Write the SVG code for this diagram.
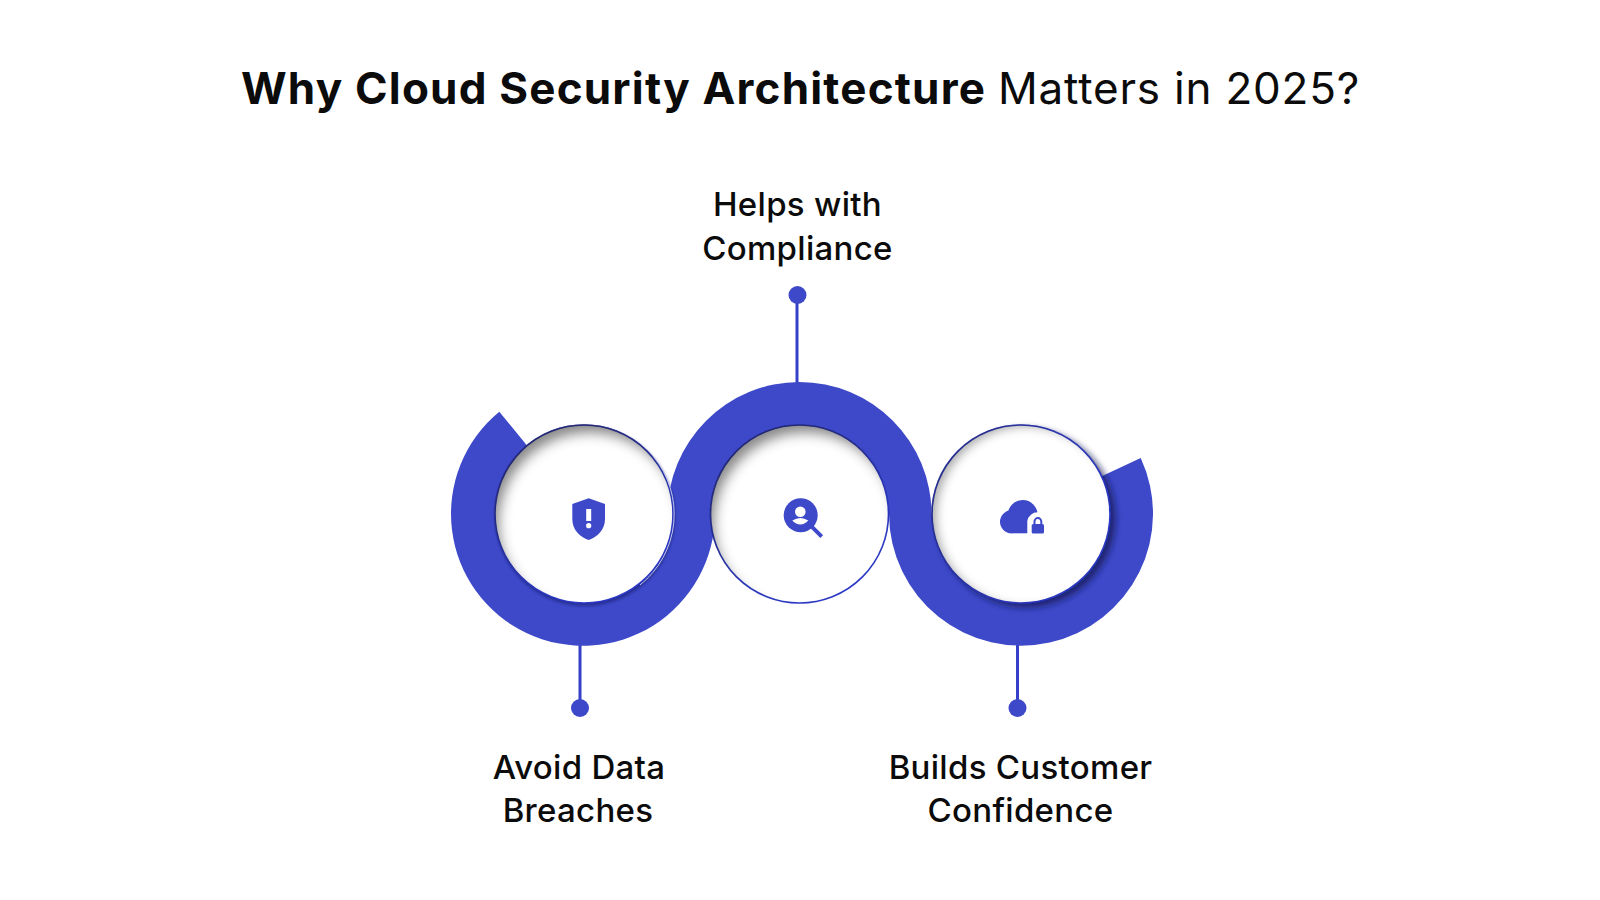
<svg xmlns="http://www.w3.org/2000/svg" width="1600" height="900" viewBox="0 0 1600 900">
<defs>
<style>
.t{font-family:"Inter","Noto Sans","Liberation Sans",sans-serif;fill:#0b0b0b}
.h{font-size:44px}
.l{font-size:33px;font-weight:500;text-anchor:middle;letter-spacing:.3px}
.b{fill:#3d49c9}
.line{stroke:#3540c8;stroke-width:3;fill:none}
.disc{fill:#fff;stroke:#2f3bc6;stroke-width:1.6}
</style>
<filter id="f1" x="-20%" y="-20%" width="140%" height="140%">
<feOffset in="SourceAlpha" dx="6" dy="10" result="o"/><feGaussianBlur in="o" stdDeviation="6" result="ob"/>
<feComposite in="SourceAlpha" in2="ob" operator="out" result="ring"/><feFlood flood-color="#222" flood-opacity=".75"/><feComposite in2="ring" operator="in" result="inner"/>
<feOffset in="SourceAlpha" dx="1" dy="2" result="d"/><feGaussianBlur in="d" stdDeviation="1.5" result="db"/><feFlood flood-color="#151a60" flood-opacity=".6"/><feComposite in2="db" operator="in" result="drop"/>
<feMerge><feMergeNode in="drop"/><feMergeNode in="SourceGraphic"/><feMergeNode in="inner"/></feMerge>
</filter>
<filter id="f2" x="-20%" y="-20%" width="140%" height="140%">
<feOffset in="SourceAlpha" dx="6" dy="10" result="o"/><feGaussianBlur in="o" stdDeviation="6" result="ob"/>
<feComposite in="SourceAlpha" in2="ob" operator="out" result="ring"/><feFlood flood-color="#222" flood-opacity=".75"/><feComposite in2="ring" operator="in" result="inner"/>
<feMerge><feMergeNode in="SourceGraphic"/><feMergeNode in="inner"/></feMerge>
</filter>
<filter id="f3" x="-20%" y="-20%" width="140%" height="140%">
<feOffset in="SourceAlpha" dx="6" dy="3" result="o"/><feGaussianBlur in="o" stdDeviation="5" result="ob"/>
<feComposite in="SourceAlpha" in2="ob" operator="out" result="ring"/><feFlood flood-color="#222" flood-opacity=".6"/><feComposite in2="ring" operator="in" result="inner"/>
<feOffset in="SourceAlpha" dx="5" dy="4" result="d"/><feGaussianBlur in="d" stdDeviation="3" result="db"/><feFlood flood-color="#14184f" flood-opacity=".7"/><feComposite in2="db" operator="in" result="drop"/>
<feMerge><feMergeNode in="drop"/><feMergeNode in="SourceGraphic"/><feMergeNode in="inner"/></feMerge>
</filter>
</defs>
<rect width="1600" height="900" fill="#fff"/>
<text class="t h" y="104"><tspan x="241" font-weight="700" letter-spacing="1.2">Why Cloud Security Architecture</tspan><tspan x="998" font-weight="400" letter-spacing=".8">Matters in 2025?</tspan></text>
<g id="connectors">
<line class="line" x1="797" y1="295" x2="797" y2="390"/>
<line class="line" x1="580" y1="640" x2="580" y2="708"/>
<line class="line" x1="1017.5" y1="640" x2="1017.5" y2="708"/>
<circle class="b" cx="797.5" cy="295" r="9"/>
<circle class="b" cx="580" cy="708" r="9"/>
<circle class="b" cx="1017.5" cy="708" r="9"/>
</g>
<g id="ribbon">
<path class="b" d="M583 514L499.3 411.7A132 132 0 1 0 715 514Z"/>
<path class="b" d="M667.5 514A132 132 0 0 1 931.5 514Z"/>
<path class="b" d="M1021 514L889 514A132 132 0 1 0 1140.7 458Z"/>
</g>
<g id="node-breaches">
<circle class="disc" cx="584" cy="514" r="89" filter="url(#f1)"/>
<path d="M653 456A90.5 90.5 0 0 1 640 585" fill="none" stroke="#c3c7ee" stroke-width="1"/>
<path class="b" d="M588.7 498.3 605 504V519C605 530 597 537 588.7 540 580 537 572.3 530 572.3 519V504Z"/>
<rect x="586.2" y="509" width="5" height="12" fill="#fff"/><circle cx="588.7" cy="525.7" r="2.6" fill="#fff"/>
<text class="t l" x="579" y="779">Avoid Data</text><text class="t l" x="578" y="822">Breaches</text>
</g>
<g id="node-compliance">
<circle class="disc" cx="799.5" cy="514" r="89" filter="url(#f2)"/>
<circle class="b" cx="800.7" cy="515.3" r="17"/>
<line x1="811.7" y1="526.7" x2="821.7" y2="536.7" stroke="#3d49c9" stroke-width="4"/>
<circle cx="800.3" cy="511.7" r="5.3" fill="#fff"/><path d="M792.3 520.5Q800.3 515.5 808.3 520.5 804.5 524.5 800.3 524.5 796 524.5 792.3 520.5Z" fill="#fff"/>
<text class="t l" x="797.5" y="216">Helps with</text><text class="t l" x="797.5" y="259.500">Compliance</text>
</g>
<g id="node-confidence">
<circle class="disc" cx="1021" cy="514" r="89" filter="url(#f3)"/>
<circle class="b" cx="1022.7" cy="515" r="15"/><circle class="b" cx="1011.5" cy="521.8" r="11.5"/><rect class="b" x="1011" y="515" width="20" height="18.3"/>
<path d="M1027.3 535V521A10.5 10.5 0 0 1 1048 521V535Z" fill="#fff"/>
<rect class="b" x="1031.7" y="524" width="12.3" height="9.5" rx="1.5"/><path d="M1034.5 525V521.5A3.4 3.4 0 0 1 1041.3 521.5V525" fill="none" stroke="#3d49c9" stroke-width="2"/>
<text class="t l" x="1020.5" y="779">Builds Customer</text><text class="t l" x="1020.5" y="822">Confidence</text>
</g>
</svg>
